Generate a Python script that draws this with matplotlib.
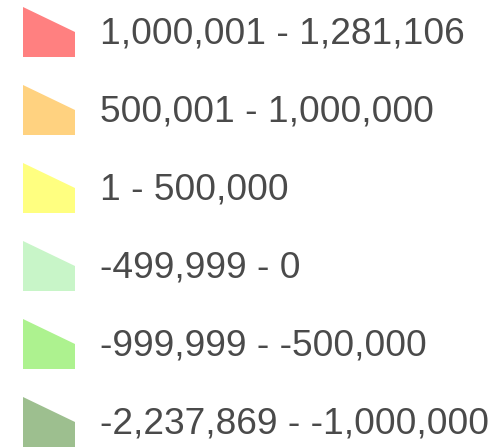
import matplotlib
matplotlib.use("Agg")
import matplotlib.pyplot as plt
from matplotlib.patches import Polygon

labels = ["1,000,001 - 1,281,106", "500,001 - 1,000,000", "1 - 500,000",
          "-499,999 - 0", "-999,999 - -500,000", "-2,237,869 - -1,000,000"]
colors = ["#FF8080", "#FFD280", "#FFFF80", "#C8F5C8", "#ADF28F", "#9DBF8F"]

W, H = 495, 447
fig = plt.figure(figsize=(W / 100, H / 100), dpi=100)
ax = fig.add_axes([0, 0, 1, 1])
ax.set_xlim(0, W)
ax.set_ylim(H, 0)
ax.axis("off")

row_h = 78
top0 = 7
for i, (lab, col) in enumerate(zip(labels, colors)):
    top = top0 + row_h * i
    shape = [(23, top), (75, top + 25), (75, top + 50), (23, top + 50)]
    ax.add_patch(Polygon(shape, closed=True, facecolor=col, edgecolor="none"))
    ax.text(100, top + 36, lab, fontsize=26.7, family="Liberation Sans",
            color="#4a4a4a", va="baseline", ha="left")

fig.savefig("out.png", dpi=100)
